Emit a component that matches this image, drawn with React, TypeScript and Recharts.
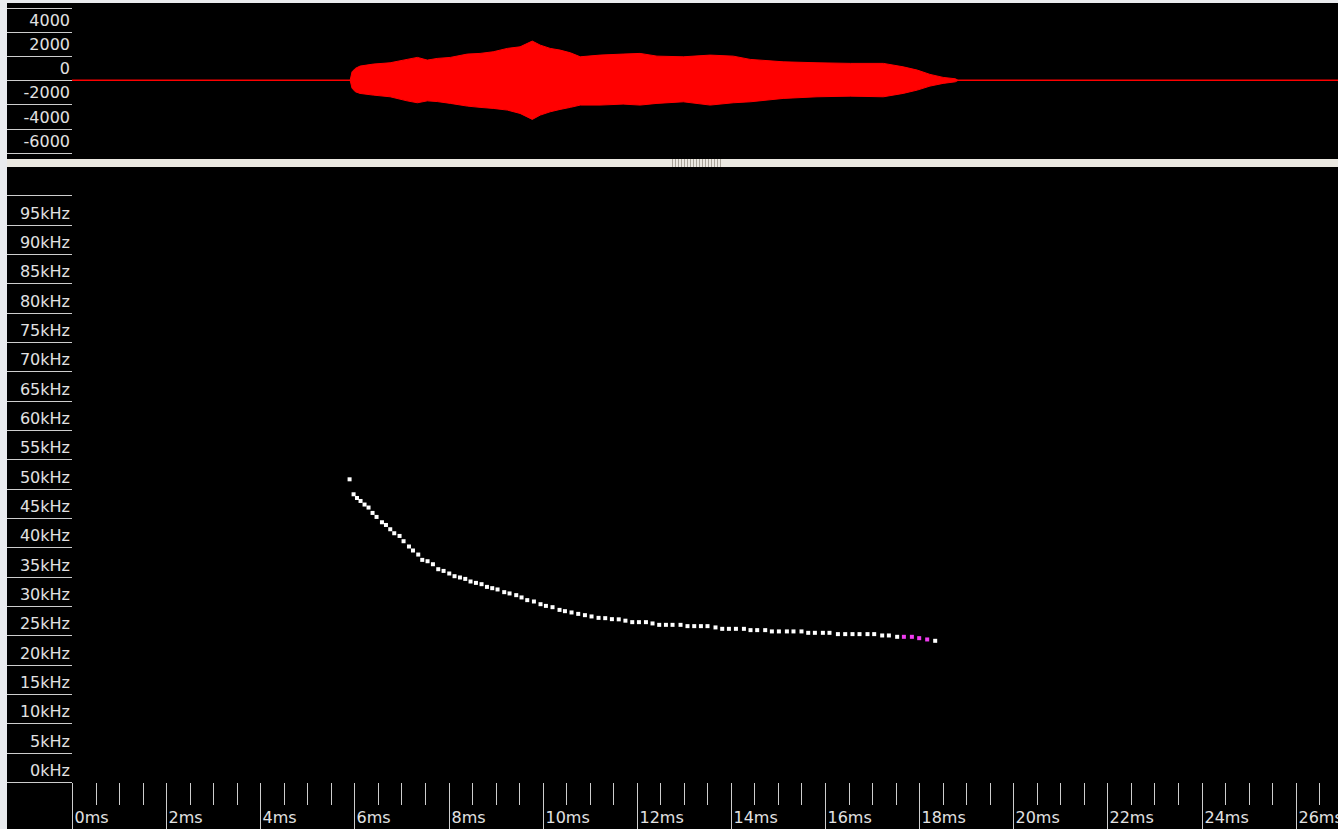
import React from 'react';
import { AreaChart, Area, ScatterChart, Scatter, XAxis, YAxis, ReferenceLine } from 'recharts';

// ---- Waveform envelope (time in ms, amplitude) ----
const waveTimes = [0, 5.91, 5.95, 6.02, 6.12, 6.40, 6.76, 7.12, 7.34, 7.55, 7.76, 8.04, 8.40, 8.67, 8.95, 9.25, 9.52, 9.78, 9.95, 10.16, 10.37, 10.59, 10.80, 11.22, 11.71, 12.07, 12.43, 12.99, 13.56, 14.05, 14.41, 15.11, 15.83, 16.54, 17.24, 17.66, 17.96, 18.23, 18.51, 18.77, 18.83, 26.9];
const waveHigh = [0, 0, 700, 985, 1175, 1340, 1450, 1730, 1895, 1670, 1810, 1895, 2170, 2225, 2360, 2640, 2770, 3245, 2910, 2640, 2500, 2275, 1945, 2085, 2170, 2225, 2000, 1945, 2085, 2000, 1730, 1530, 1450, 1400, 1400, 1115, 845, 490, 240, 125, 0, 0];
const waveLow = [0, 0, -650, -950, -1085, -1225, -1365, -1700, -1860, -1700, -1760, -1910, -2135, -2240, -2325, -2465, -2740, -3235, -2880, -2605, -2410, -2240, -2050, -2050, -1970, -2050, -1910, -1780, -2050, -1860, -1780, -1500, -1365, -1310, -1365, -1085, -810, -480, -255, -125, 0, 0];

// ---- Call contour points (time ms, frequency kHz) ----
const whiteTimes = [5.898, 5.983, 6.055, 6.131, 6.216, 6.301, 6.386, 6.471, 6.586, 6.671,
  6.762, 6.847, 6.960, 7.045, 7.160, 7.245, 7.357, 7.442, 7.555, 7.669,
  7.782, 7.895, 8.016, 8.128, 8.243, 8.356, 8.468, 8.583, 8.702, 8.817,
  8.929, 9.042, 9.184, 9.297, 9.439, 9.552, 9.673, 9.815, 9.955, 10.070,
  10.210, 10.359, 10.474, 10.614, 10.756, 10.899, 11.039, 11.188, 11.330, 11.472,
  11.617, 11.759, 11.904, 12.046, 12.195, 12.335, 12.477, 12.620, 12.760, 12.930,
  13.078, 13.221, 13.363, 13.503, 13.673, 13.816, 13.958, 14.107, 14.277, 14.417,
  14.559, 14.729, 14.871, 15.020, 15.190, 15.330, 15.500, 15.643, 15.785, 15.955,
  16.095, 16.274, 16.429, 16.584, 16.733, 16.903, 17.045, 17.215, 17.357, 17.533,
  18.341];
const whiteFreqs = [51.58, 49.03, 48.40, 47.89, 47.28, 46.77, 45.85, 45.17, 44.26, 43.80,
  43.07, 42.39, 41.93, 41.03, 40.13, 39.45, 38.76, 37.85, 37.62, 37.11,
  36.26, 35.97, 35.53, 35.07, 34.85, 34.61, 34.17, 33.93, 33.71, 33.25,
  33.03, 32.81, 32.35, 32.13, 31.84, 31.45, 30.99, 30.76, 30.30, 30.01,
  29.79, 29.33, 29.11, 28.89, 28.65, 28.43, 28.21, 27.97, 27.92, 27.75,
  27.72, 27.49, 27.24, 27.24, 27.24, 27.02, 26.78, 26.78, 26.78, 26.78,
  26.56, 26.56, 26.56, 26.56, 26.34, 26.10, 26.10, 26.10, 26.10, 25.88,
  25.88, 25.88, 25.66, 25.66, 25.66, 25.66, 25.66, 25.42, 25.42, 25.42,
  25.42, 25.20, 25.20, 25.20, 25.20, 25.20, 25.20, 24.97, 24.97, 24.74,
  24.06];
const magentaTimes = [17.676, 17.846, 18.001, 18.171];
const magentaFreqs = [24.74, 24.74, 24.51, 24.29];

// ---- Tick values ----
const ampTicks = [6000, 4000, 2000, 0, -2000, -4000, -6000];
const freqTicks = [0, 5, 10, 15, 20, 25, 30, 35, 40, 45, 50, 55, 60, 65, 70, 75, 80, 85, 90, 95, 100];
const timeTicks = [0, 0.5, 1, 1.5, 2, 2.5, 3, 3.5, 4, 4.5, 5, 5.5, 6, 6.5, 7, 7.5, 8, 8.5, 9, 9.5,
  10, 10.5, 11, 11.5, 12, 12.5, 13, 13.5, 14, 14.5, 15, 15.5, 16, 16.5, 17, 17.5, 18, 18.5, 19, 19.5,
  20, 20.5, 21, 21.5, 22, 22.5, 23, 23.5, 24, 24.5, 25, 25.5, 26, 26.5];

const waveData = waveTimes.map((t, i) => ({ t, range: [waveLow[i], waveHigh[i]] }));
const whiteData = whiteTimes.map((t, i) => ({ t, f: whiteFreqs[i] }));
const magentaData = magentaTimes.map((t, i) => ({ t, f: magentaFreqs[i] }));

const FONT = '"DejaVu Sans", Verdana, sans-serif';
const TEXT = '#e2e2e2';
const LINE = '#cdcdcd';
const W = 1331;
const AXIS_W = 65;
const BOTTOM_H = 662;
const XAXIS_H = 47;
const AXIS_TOP = BOTTOM_H - XAXIS_H;

function AmpTick(props: any) {
  const { y, payload } = props;
  const v = payload.value;
  const py = Math.round(y) + 0.5;
  return (
    <g>
      <line x1={0} x2={AXIS_W} y1={py} y2={py} stroke={LINE} strokeWidth={1} />
      {v !== 6000 && (
        <text x={AXIS_W - 2} y={py - 7} textAnchor="end" fill={TEXT} fontSize={16} fontFamily={FONT}>
          {v}
        </text>
      )}
    </g>
  );
}

function FreqTick(props: any) {
  const { y, payload } = props;
  const v = payload.value;
  const py = Math.round(y) + 0.5;
  return (
    <g>
      <line x1={0} x2={AXIS_W} y1={py} y2={py} stroke={LINE} strokeWidth={1} />
      {v !== 100 && (
        <text x={AXIS_W - 2} y={py - 7} textAnchor="end" fill={TEXT} fontSize={16} fontFamily={FONT}>
          {v}kHz
        </text>
      )}
    </g>
  );
}

function TimeTick(props: any) {
  const { x, payload } = props;
  const v = payload.value;
  const major = v % 2 === 0;
  const px = Math.round(x) + 0.5;
  return (
    <g>
      <line x1={px} x2={px} y1={AXIS_TOP + 1} y2={major ? BOTTOM_H : AXIS_TOP + 23} stroke={LINE} strokeWidth={1} />
      {major && (
        <text x={px + 2} y={AXIS_TOP + 41} textAnchor="start" fill={TEXT} fontSize={16} fontFamily={FONT}>
          {v}ms
        </text>
      )}
    </g>
  );
}

function WhiteSquare(props: any) {
  const { cx, cy } = props;
  return <rect x={cx - 2} y={cy - 2} width={4} height={4} fill="#ffffff" />;
}

function MagentaSquare(props: any) {
  const { cx, cy } = props;
  return <rect x={cx - 2} y={cy - 2} width={4} height={4} fill="#f03cf0" />;
}

export default function App() {
  return (
    <div style={{ position: 'fixed', left: 0, top: 0, width: 1338, height: 829, background: '#e9ebee', overflow: 'hidden' }}>
      {/* top waveform panel */}
      <div style={{ position: 'absolute', left: 7, top: 3, width: W, height: 156, background: '#000' }}>
        <AreaChart width={W} height={156} data={waveData} margin={{ top: 0, right: 0, bottom: 0, left: 0 }}>
          <XAxis type="number" dataKey="t" domain={[0, 26.9]} hide allowDataOverflow />
          <YAxis
            type="number"
            domain={[-6512, 6396]}
            ticks={ampTicks}
            interval={0}
            width={AXIS_W}
            axisLine={false}
            tickLine={false}
            tick={(p: any) => <AmpTick {...p} />}
            allowDataOverflow
          />
          <ReferenceLine y={0} stroke="#ff0000" strokeWidth={1} />
          <Area
            type="linear"
            dataKey="range"
            stroke="#ff0000"
            strokeWidth={1}
            fill="#ff0000"
            fillOpacity={1}
            isAnimationActive={false}
            dot={false}
            activeDot={false}
          />
        </AreaChart>
      </div>

      {/* divider bar */}
      <div style={{ position: 'absolute', left: 7, top: 159, width: W, height: 8, background: '#ebe8e1' }} />
      <div
        style={{
          position: 'absolute', left: 670, top: 159, width: 53, height: 8,
          background: 'repeating-linear-gradient(90deg, #ebe8e1 0px, #ebe8e1 2px, #a9a49a 2px, #a9a49a 3px)',
        }}
      />

      {/* bottom frequency panel */}
      <div style={{ position: 'absolute', left: 7, top: 167, width: W, height: BOTTOM_H, background: '#000' }}>
        <ScatterChart width={W} height={BOTTOM_H} margin={{ top: 0, right: 0, bottom: 0, left: 0 }}>
          <XAxis
            type="number"
            dataKey="t"
            domain={[0, 26.9]}
            ticks={timeTicks}
            interval={0}
            height={XAXIS_H}
            axisLine={false}
            tickLine={false}
            tick={(p: any) => <TimeTick {...p} />}
            allowDataOverflow
          />
          <YAxis
            type="number"
            dataKey="f"
            domain={[0, 104.8]}
            ticks={freqTicks}
            interval={0}
            width={AXIS_W}
            axisLine={false}
            tickLine={false}
            tick={(p: any) => <FreqTick {...p} />}
            allowDataOverflow
          />
          <Scatter data={whiteData} shape={(p: any) => <WhiteSquare {...p} />} isAnimationActive={false} />
          <Scatter data={magentaData} shape={(p: any) => <MagentaSquare {...p} />} isAnimationActive={false} />
        </ScatterChart>
      </div>
    </div>
  );
}
